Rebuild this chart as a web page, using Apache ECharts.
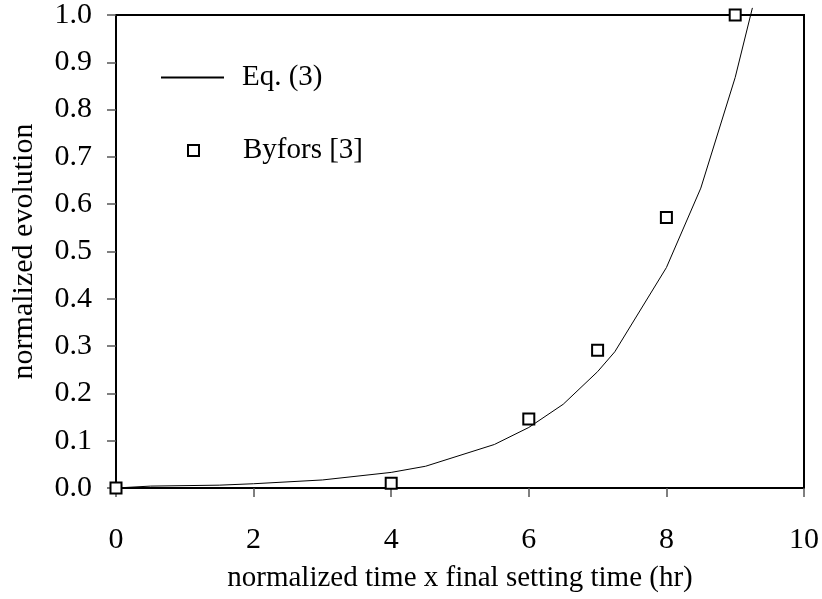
<!DOCTYPE html>
<html>
<head>
<meta charset="utf-8">
<script src="https://cdn.jsdelivr.net/npm/echarts@6/dist/echarts.min.js"></script>
<style>
	html, body { margin: 0; padding: 0; background: #fff; }
	#chart { width: 822px; height: 599px; }
</style>
</head>
<body>
<div id="chart"></div>
<script>
// Eq. (3) curve
const fitX = [0, 0.5, 1.5, 2, 3, 4, 4.5, 5.5, 6, 6.5, 7, 7.25, 8, 8.5, 9, 9.25];
const fitY = [0, 0.004, 0.006, 0.009, 0.017, 0.033, 0.046, 0.092, 0.128, 0.177, 0.246, 0.288, 0.466, 0.634, 0.868, 1.015];

// Byfors [3] measurements
const byforsX = [0, 4, 6, 7, 8, 9];
const byforsY = [0, 0.01, 0.146, 0.291, 0.572, 1.0];

const font = "'Liberation Serif', 'Times New Roman', serif";
const labelSize = 30;

const chart = echarts.init(document.getElementById('chart'), null, {renderer: 'canvas'});

chart.setOption({
	animation: false,
	textStyle: {fontFamily: font, color: '#000'},
	grid: {
		left: 116,
		right: 18,
		top: 14,
		bottom: 111,
		show: true,
		borderColor: '#000',
		borderWidth: 2,
	},
	legend: [
		{
			data: [{name: 'Eq. (3)', icon: 'rect'}],
			left: 161,
			top: 63,
			padding: 0,
			itemWidth: 63,
			itemHeight: 2,
			itemStyle: {color: '#000', borderWidth: 0},
			textStyle: {fontFamily: font, fontSize: 29, color: '#000', padding: [0, 0, 0, 13]},
		},
		{
			data: ['Byfors [3]'],
			left: 187,
			top: 136,
			padding: 0,
			icon: 'rect',
			itemWidth: 11,
			itemHeight: 11,
			textStyle: {fontFamily: font, fontSize: 29, color: '#000', padding: [0, 0, 0, 39]},
		}
	],
	xAxis: {
		type: 'value',
		min: 0,
		max: 10,
		interval: 2,
		name: 'normalized time x final setting time (hr)',
		nameLocation: 'middle',
		nameGap: 76,
		nameTextStyle: {fontFamily: font, fontSize: 29, color: '#000'},
		axisLine: {onZero: false, lineStyle: {color: '#000', width: 2}},
		axisTick: {show: true, inside: false, length: 9, lineStyle: {color: '#555', width: 1.5}},
		axisLabel: {margin: 37, fontFamily: font, fontSize: labelSize, color: '#000'},
		splitLine: {show: false},
	},
	yAxis: {
		type: 'value',
		min: 0,
		max: 1,
		interval: 0.1,
		name: 'normalized evolution',
		nameLocation: 'middle',
		nameGap: 77,
		nameTextStyle: {fontFamily: font, fontSize: 30, color: '#000'},
		axisLine: {show: true, onZero: false, lineStyle: {color: '#000', width: 2}},
		axisTick: {show: true, inside: false, length: 9, lineStyle: {color: '#555', width: 1.5}},
		axisLabel: {
			margin: 24,
			fontFamily: font,
			fontSize: labelSize,
			color: '#000',
			formatter: v => v.toFixed(1),
		},
		splitLine: {show: false},
	},
	series: [
		{
			name: 'Eq. (3)',
			type: 'line',
			data: fitX.map((x, i) => [x, fitY[i]]),
			symbol: 'none',
			showSymbol: false,
			clip: false,
			itemStyle: {color: '#000'},
			lineStyle: {color: '#000', width: 1},
			z: 3,
		},
		{
			name: 'Byfors [3]',
			type: 'scatter',
			data: byforsX.map((x, i) => [x, byforsY[i]]),
			symbol: 'rect',
			symbolSize: 11,
			clip: false,
			itemStyle: {color: '#fff', borderColor: '#000', borderWidth: 2, opacity: 1},
			z: 4,
		}
	]
});
</script>
</body>
</html>
